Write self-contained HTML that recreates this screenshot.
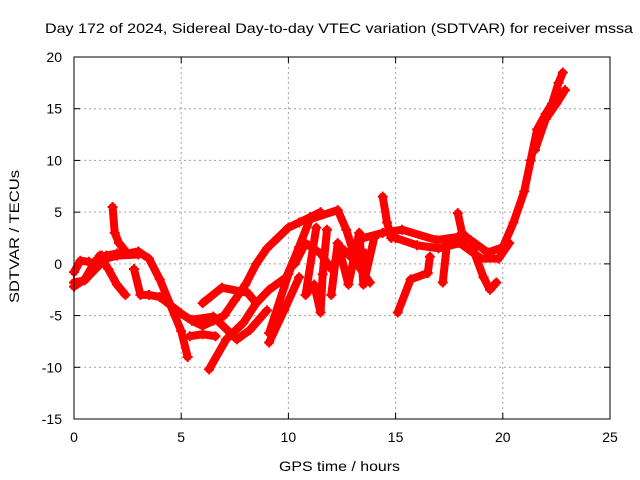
<!DOCTYPE html>
<html><head><meta charset="utf-8"><style>
body{margin:0;background:#fff;width:640px;height:480px;overflow:hidden}
svg{display:block;font-family:"Liberation Sans",sans-serif}
</style></head><body>
<svg id="chart" width="640" height="480">
<text x="45" y="33" font-size="14" textLength="588" lengthAdjust="spacingAndGlyphs">Day 172 of 2024, Sidereal Day-to-day VTEC variation (SDTVAR) for receiver mssa</text>
<text x="279" y="471" font-size="14" textLength="121" lengthAdjust="spacingAndGlyphs">GPS time / hours</text>
<text transform="translate(19,303) rotate(-90)" font-size="14" textLength="133" lengthAdjust="spacingAndGlyphs">SDTVAR / TECUs</text>
<g id="grid"></g><g id="ticks"></g><g id="marks"></g>
<rect x="74" y="57" width="536" height="362" fill="none" stroke="#000" stroke-width="1"/>
</svg>
<script>
const xTicks=[0,5,10,15,20,25];
const yTicks=[-15,-10,-5,0,5,10,15,20];
const trackA=[[0,-2.2],[0.5,-1.5],[1,0.3],[1.5,0.8],[2,1],[2.5,1],[3,1.2],[3.5,0.5],[4,-1.5],[4.5,-4],[5,-6.5],[5.3,-9]];
const trackA2=[[0,-0.8],[0.3,0.3],[0.7,0.2],[1,-0.5],[1.3,0.8]];
const trackA3=[[0,-1.8],[0.5,-1.6],[1,-0.5],[1.5,0.5],[2,0.8],[3,0.9]];
const trackB=[[1.2,0.8],[1.6,-0.5],[2,-2],[2.4,-3]];
const trackC=[[1.8,5.5],[1.9,3],[2.1,2],[2.3,1.5]];
const trackD=[[2.8,-0.5],[3.1,-3],[3.5,-3],[4,-3.2],[4.5,-4],[5,-4.8],[5.5,-5.5],[6,-6],[6.5,-5.5],[7,-5],[7.5,-3.5],[8,-2],[8.5,0],[9,1.5],[9.5,2.5],[10,3.5],[10.5,4],[11,4.5],[11.5,5]];
const trackE=[[6.3,-10.2],[7.1,-7.3],[7.9,-5.7],[8.5,-3.8],[9.1,-2.5],[9.9,-1.3],[10.5,1.6]];
const trackE2=[[5.4,-7],[6,-6.8],[6.6,-7]];
const trackF=[[6,-3.8],[6.9,-2.3],[8.1,-2.8],[8.5,-3.8]];
const trackG=[[5.5,-5.4],[6.5,-5.1],[7.6,-7.3],[8.2,-6.4],[9,-4.5]];
const trackG2=[[9.1,-7.6],[9.8,-4.5],[10.5,-1.3]];
const trackH=[[9.1,-6.7],[10,-1],[11,4.3],[12.3,5.2],[12.7,3.3],[13.2,0],[13.8,-1.8]];
const trackI=[[11.8,3.3],[11.6,-1],[11.5,-4.7],[11.2,-2],[10.8,-3],[11.3,3.5]];
const trackI2=[[12,-3],[12.3,2],[12.8,-2],[13.3,3],[13.5,-2],[14,2.5]];
const trackI3=[[10.3,0],[10.8,2],[11.5,1],[12,-0.5],[12.5,1.5],[13,0.5],[13.6,1]];
const trackJ=[[13.5,2.5],[14.4,3],[15.3,3.3],[16.9,2.3],[17.9,2.6],[18.5,2.3],[19.3,1.1],[20,1.6],[20.5,4],[21,7],[21.3,10],[21.6,13],[22,14.5],[22.3,15.5],[22.6,17.5],[22.8,18.5]];
const trackJ2=[[21.5,11],[22,14],[22.5,15.5],[22.9,16.8]];
const trackJ3=[[15,2.5],[16,1.8],[17,1.5],[18,2],[19,0.5],[19.8,0.5],[20.3,2]];
const trackK=[[15.1,-4.7],[15.7,-1.5],[16.5,-0.9],[16.6,0.7]];
const trackL=[[17.2,-1.8],[17.4,2]];
const trackM=[[17.9,4.9],[18.1,3],[18.6,2]];
const trackN=[[18.6,1.5],[19.1,-1.3],[19.4,-2.5],[19.7,-1.8]];
const trackO=[[14.4,6.5],[14.6,4],[14.8,2.5]];
const tracks=[trackA,trackA2,trackA3,trackB,trackC,trackD,trackE,trackE2,trackF,trackG,trackG2,trackH,trackI,trackI2,trackI3,trackJ,trackJ2,trackJ3,trackK,trackL,trackM,trackN,trackO];

const X0=74,X1=610,Y0=419,Y1=57;
const sx=v=>X0+(v-0)/25*(X1-X0);
const sy=v=>Y0-(v+15)/35*(Y0-Y1);
const NS="http://www.w3.org/2000/svg";
const grid=document.getElementById('grid'),ticks=document.getElementById('ticks'),marks=document.getElementById('marks');
function mk(tag,attrs,parent){const e=document.createElementNS(NS,tag);for(const k in attrs)e.setAttribute(k,attrs[k]);parent.appendChild(e);return e;}
xTicks.forEach(t=>{
  const x=sx(t);
  if(t>0&&t<25){const g=mk('line',{x1:x,x2:x,y1:Y0,y2:Y1,stroke:'#a0a0a0','stroke-dasharray':'2,3'},grid);
  
  }
  mk('line',{x1:x,x2:x,y1:Y0,y2:Y0-6,stroke:'#000'},ticks);
  mk('line',{x1:x,x2:x,y1:Y1,y2:Y1+6,stroke:'#000'},ticks);
  const l=mk('text',{x:x,y:Y0+23,'font-size':14,'text-anchor':'middle'},ticks);l.textContent=t;
  
  
});
yTicks.forEach(t=>{
  const y=sy(t);
  if(t>-15&&t<20){const g=mk('line',{x1:X0,x2:X1,y1:y,y2:y,stroke:'#a0a0a0','stroke-dasharray':'2,3'},grid);
  
  }
  mk('line',{x1:X0,x2:X0+6,y1:y,y2:y,stroke:'#000'},ticks);
  mk('line',{x1:X1,x2:X1-6,y1:y,y2:y,stroke:'#000'},ticks);
  const l=mk('text',{x:X0-12,y:y+5,'font-size':14,'text-anchor':'end'},ticks);l.textContent=t;
  
  
});
tracks.forEach(tr=>{
  const pts=tr.map(p=>sx(p[0])+','+sy(p[1])).join(' ');
  const pl=mk('polyline',{points:pts,fill:'none',stroke:'#ff0000','stroke-width':8,'stroke-linejoin':'round','stroke-linecap':'round'},marks);
  
  
  tr.forEach(p=>{
    const x=sx(p[0]),y=sy(p[1]);
    const m=mk('path',{d:`M${x-5},${y}H${x+5}M${x},${y-5}V${y+5}`,stroke:'#ff0000','stroke-width':2},marks);
    
    
  });
});
</script>
</body></html>
